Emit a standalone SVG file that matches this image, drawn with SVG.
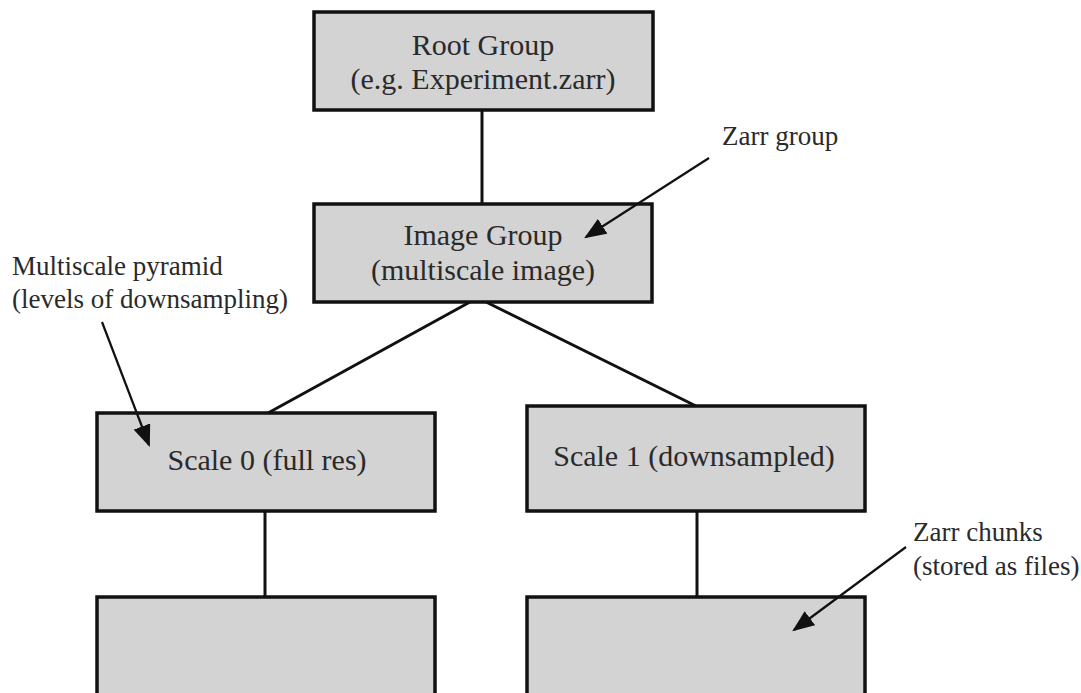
<svg xmlns="http://www.w3.org/2000/svg" width="1081" height="693" viewBox="0 0 1081 693">
<defs>
<style>
.box{fill:#d3d3d3;stroke:#111;stroke-width:3.5}
.t{font-family:"Liberation Serif","Times New Roman",serif;font-size:30px;fill:#2a2a2a;text-anchor:middle}
.a{font-family:"Liberation Serif","Times New Roman",serif;font-size:27px;fill:#2a2a2a}
.edge{stroke:#111;stroke-width:3;fill:none}
.arr{stroke:#111;stroke-width:2.2;fill:none;marker-end:url(#ah)}
</style>
<marker id="ah" markerWidth="10" markerHeight="8" refX="9" refY="4" orient="auto" markerUnits="strokeWidth">
<path d="M0,0 L10,4 L0,8 Z" fill="#111"/>
</marker>
</defs>
<rect width="1081" height="693" fill="#fff"/>
<g id="connectors">
<line class="edge" x1="482" y1="110" x2="482" y2="204"/>
<line class="edge" x1="470" y1="302" x2="268" y2="413"/>
<line class="edge" x1="486" y1="302" x2="696" y2="406"/>
<line class="edge" x1="265" y1="511" x2="265" y2="597"/>
<line class="edge" x1="697" y1="511" x2="697" y2="597"/>
</g>
<g id="root">
<rect class="box" x="314" y="12" width="339" height="98"/>
<text class="t" x="483" y="55">Root Group</text>
<text class="t" x="483" y="89">(e.g. Experiment.zarr)</text>
</g>
<g id="image">
<rect class="box" x="314" y="204" width="338" height="98"/>
<text class="t" x="483" y="245">Image Group</text>
<text class="t" x="483" y="280">(multiscale image)</text>
</g>
<g id="scale0">
<rect class="box" x="97" y="413" width="338" height="98"/>
<text class="t" x="267" y="470">Scale 0 (full res)</text>
</g>
<g id="scale1">
<rect class="box" x="527" y="406" width="338" height="105"/>
<text class="t" x="694" y="466">Scale 1 (downsampled)</text>
</g>
<g id="chunks0">
<rect class="box" x="97" y="597" width="338" height="110"/>
</g>
<g id="chunks1">
<rect class="box" x="527" y="597" width="338" height="110"/>
</g>
<g id="annotations">
<line class="arr" x1="709" y1="158" x2="586" y2="237"/>
<line class="arr" x1="102" y1="322" x2="149" y2="445"/>
<line class="arr" x1="906" y1="547" x2="794" y2="630"/>
<text class="a" x="722" y="145">Zarr group</text>
<text class="a" x="12" y="275">Multiscale pyramid</text>
<text class="a" x="12" y="308">(levels of downsampling)</text>
<text class="a" x="913" y="541">Zarr chunks</text>
<text class="a" x="913" y="575">(stored as files)</text>
</g>
</svg>
